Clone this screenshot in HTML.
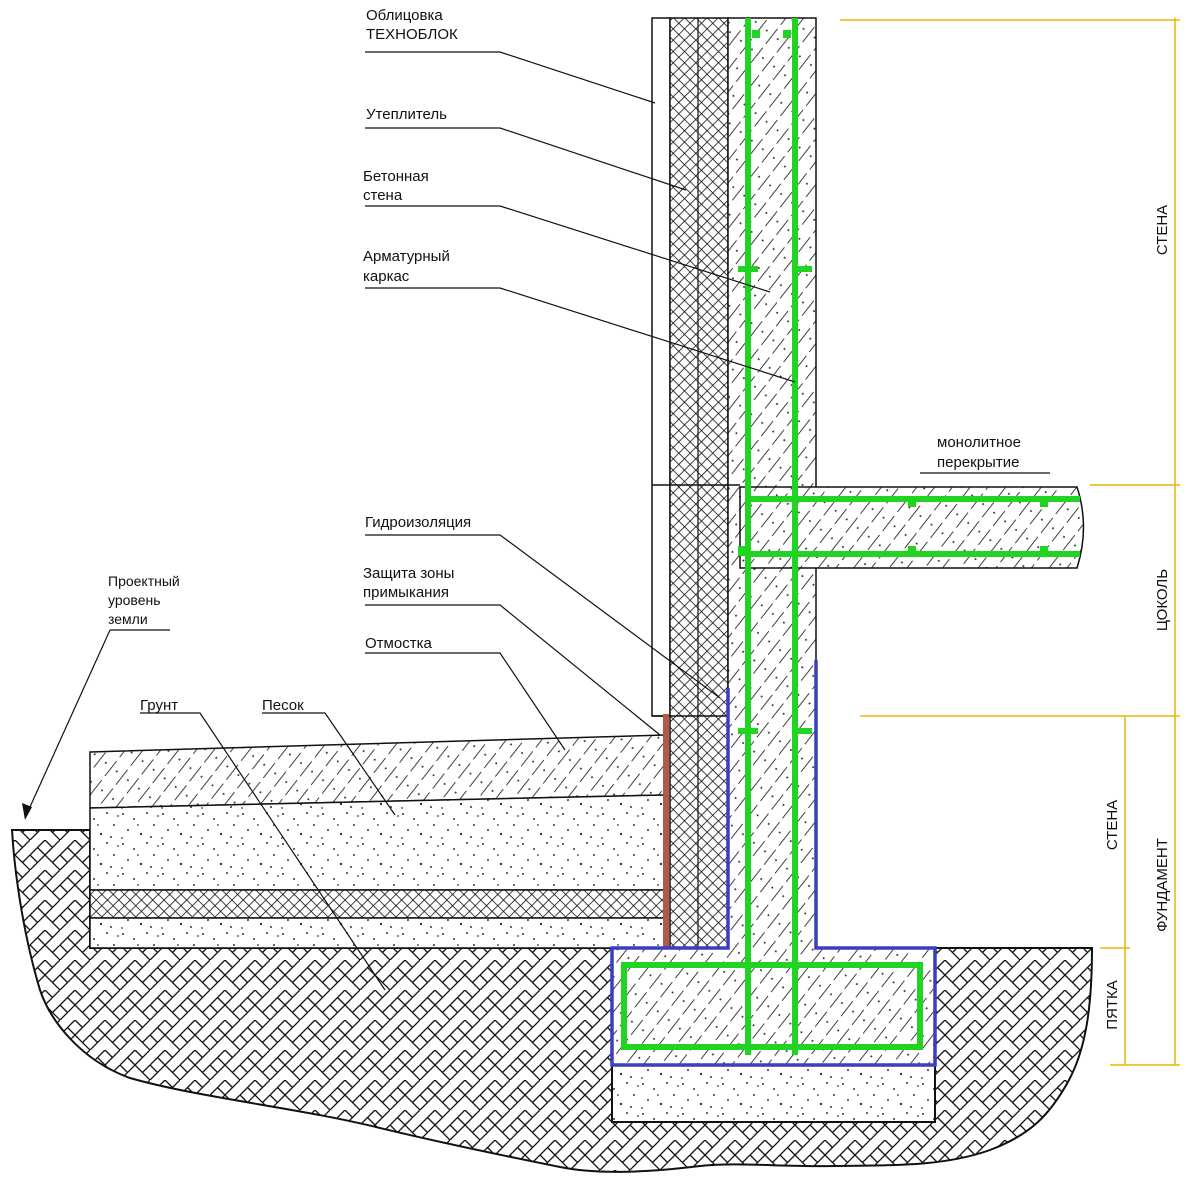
<!DOCTYPE html>
<html><head><meta charset="utf-8"><style>
html,body{margin:0;padding:0;background:#fff}
svg{display:block}
text{font-family:"Liberation Sans","DejaVu Sans",sans-serif;font-size:15px;fill:#111}
</style></head><body>
<svg width="1186" height="1194" viewBox="0 0 1186 1194" xmlns="http://www.w3.org/2000/svg">
<defs>
<pattern id="hatch" width="14" height="24" patternUnits="userSpaceOnUse" patternTransform="rotate(38)">
<rect width="14" height="24" fill="#fff"/>
<line x1="0" y1="0" x2="0" y2="24" stroke="#111" stroke-width="1.6" stroke-dasharray="19 5"/>
<circle cx="7" cy="8" r="1" fill="#333"/>
</pattern>
<pattern id="cross" width="8" height="8" patternUnits="userSpaceOnUse" patternTransform="rotate(45)">
<rect width="8" height="8" fill="#fff"/>
<line x1="0" y1="0" x2="8" y2="0" stroke="#111" stroke-width="1.6"/>
<line x1="0" y1="0" x2="0" y2="8" stroke="#111" stroke-width="1.6"/>
</pattern>
<pattern id="sand" width="40" height="30" patternUnits="userSpaceOnUse">
<rect width="40" height="30" fill="#fff"/>
<g fill="#333"><circle cx="3" cy="4" r="1"/><circle cx="14" cy="9" r="1"/><circle cx="27" cy="3" r="1"/><circle cx="34" cy="15" r="1"/><circle cx="8" cy="20" r="1"/><circle cx="21" cy="24" r="1.2"/><circle cx="31" cy="27" r="1"/><circle cx="18" cy="15" r="0.9"/><circle cx="38" cy="6" r="0.9"/><circle cx="2" cy="28" r="0.9"/></g>
</pattern>
<pattern id="herr" width="30" height="30" patternUnits="userSpaceOnUse">
<rect width="30" height="30" fill="#fff"/>
<path d="M0 15 L15 0 M0 30 L15 15 L30 30 M15 15 L30 0 M7.5 22.5 L0 15 M22.5 7.5 L15 0 M7.5 7.5 L15 15 M22.5 22.5 L30 15" stroke="#111" stroke-width="1.3" fill="none"/>
</pattern>
</defs>

<path d="M12 830 L90 830 L90 948 L1092 948 C1092 1010 1085 1050 1069 1080 C1050 1115 1030 1135 990 1150 C940 1168 880 1165 834 1166 C780 1167 740 1162 700 1166 C650 1172 600 1175 560 1167 C500 1155 430 1140 380 1128 C300 1108 200 1098 130 1078 C80 1060 50 1020 40 990 C25 940 15 880 12 830 Z" fill="url(#herr)" stroke="#111" stroke-width="2"/>

<path d="M90 752 L665 735 L665 795 L90 808 Z" fill="url(#hatch)" stroke="#111" stroke-width="1.5"/>
<path d="M90 808 L665 795 L665 890 L90 890 Z" fill="url(#sand)" stroke="#111" stroke-width="1.5"/>
<rect x="90" y="890" width="575" height="28" fill="url(#cross)" stroke="#111" stroke-width="1.5"/>
<rect x="90" y="918" width="575" height="30" fill="url(#sand)" stroke="#111" stroke-width="1.5"/>

<rect x="612" y="1065" width="323" height="57" fill="url(#sand)" stroke="#111" stroke-width="2"/>

<rect x="652" y="18" width="18" height="698" fill="#fff" stroke="#111" stroke-width="1.5"/>
<rect x="670" y="18" width="58" height="930" fill="url(#cross)" stroke="#111" stroke-width="1.5"/>
<line x1="698" y1="18" x2="698" y2="948" stroke="#111" stroke-width="1.2"/>
<rect x="728" y="18" width="88" height="930" fill="url(#hatch)" stroke="#111" stroke-width="1.5"/>
<line x1="652" y1="485" x2="740" y2="485" stroke="#111" stroke-width="1.5"/>
<line x1="652" y1="716" x2="728" y2="716" stroke="#111" stroke-width="1.5"/>
<rect x="663" y="714" width="6" height="234" fill="#b5584a"/>

<path d="M740 487 L1077 487 Q1090 527 1077 568 L740 568 Z" fill="url(#hatch)" stroke="#111" stroke-width="1.5"/>

<rect x="612" y="948" width="323" height="117" fill="url(#hatch)"/>
<rect x="729" y="900" width="86" height="60" fill="url(#hatch)"/>
<path d="M728 688 L728 948 L612 948 L612 1065 L935 1065 L935 948 L816 948 L816 660" fill="none" stroke="#3a3fc0" stroke-width="3.5"/>

<g stroke="#22d422" stroke-width="6" fill="none">
<line x1="748" y1="18" x2="748" y2="1055"/>
<line x1="795" y1="18" x2="795" y2="1055"/>
<line x1="748" y1="499" x2="1080" y2="499"/>
<line x1="748" y1="554" x2="1080" y2="554"/>
<rect x="624" y="965" width="296" height="82"/>
</g>
<g fill="#22d422">
<rect x="752" y="30" width="8" height="8"/><rect x="783" y="30" width="8" height="8"/>
<rect x="738" y="266" width="20" height="6"/><rect x="792" y="266" width="20" height="6"/>
<rect x="738" y="728" width="20" height="6"/><rect x="792" y="728" width="20" height="6"/>
<rect x="908" y="499" width="8" height="8"/><rect x="1040" y="499" width="8" height="8"/>
<rect x="908" y="546" width="8" height="8"/><rect x="1040" y="546" width="8" height="8"/>
<rect x="738" y="546" width="8" height="10"/>
</g>

<g stroke="#e8b800" stroke-width="1.5">
<line x1="1175" y1="18" x2="1175" y2="1065"/>
<line x1="840" y1="20" x2="1180" y2="20"/>
<line x1="1090" y1="485" x2="1180" y2="485"/>
<line x1="860" y1="716" x2="1180" y2="716"/>
<line x1="1125" y1="716" x2="1125" y2="1065"/>
<line x1="1110" y1="1065" x2="1180" y2="1065"/>
<line x1="1100" y1="948" x2="1130" y2="948"/>
</g>
<g>
<text transform="translate(1167 230) rotate(-90)" text-anchor="middle">СТЕНА</text>
<text transform="translate(1167 600) rotate(-90)" text-anchor="middle">ЦОКОЛЬ</text>
<text transform="translate(1117 825) rotate(-90)" text-anchor="middle">СТЕНА</text>
<text transform="translate(1167 885) rotate(-90)" text-anchor="middle">ФУНДАМЕНТ</text>
<text transform="translate(1117 1005) rotate(-90)" text-anchor="middle">ПЯТКА</text>
</g>

<g stroke="#111" stroke-width="1.2" fill="none">
<path d="M365 52 L500 52 L655 103"/>
<path d="M365 128 L500 128 L686 190"/>
<path d="M365 206 L500 206 L770 292"/>
<path d="M365 288 L500 288 L795 382"/>
<path d="M365 535 L500 535 L720 698"/>
<path d="M365 605 L500 605 L660 735"/>
<path d="M365 653 L500 653 L565 750"/>
<path d="M262 713 L325 713 L395 815"/>
<path d="M140 713 L200 713 L385 990"/>
<path d="M110 630 L170 630"/>
<path d="M110 630 L25 818"/>
<path d="M920 473 L1050 473"/>
</g>
<path d="M25 820 L22 803 L32 807 Z" fill="#111"/>
<text x="366" y="20">Облицовка</text>
<text x="366" y="39">ТЕХНОБЛОК</text>
<text x="366" y="119">Утеплитель</text>
<text x="363" y="181">Бетонная</text>
<text x="363" y="200">стена</text>
<text x="363" y="261">Арматурный</text>
<text x="363" y="281">каркас</text>
<text x="365" y="527">Гидроизоляция</text>
<text x="363" y="578">Защита зоны</text>
<text x="363" y="597">примыкания</text>
<text x="365" y="648">Отмостка</text>
<text x="140" y="710">Грунт</text>
<text x="262" y="710">Песок</text>
<text x="108" y="586" style="font-size:14px">Проектный</text>
<text x="108" y="605" style="font-size:14px">уровень</text>
<text x="108" y="624" style="font-size:14px">земли</text>
<text x="937" y="447">монолитное</text>
<text x="937" y="467">перекрытие</text>
</svg>
</body></html>
